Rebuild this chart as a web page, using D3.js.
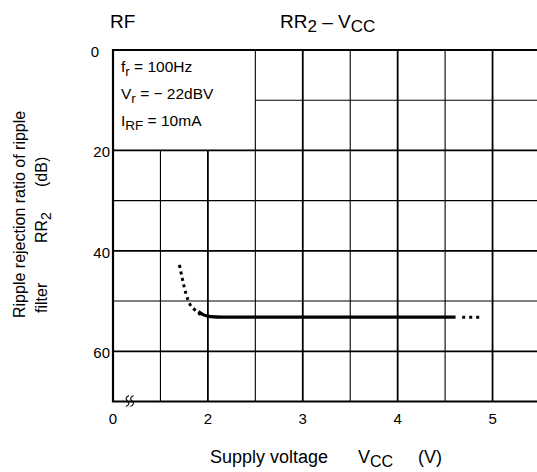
<!DOCTYPE html>
<html>
<head>
<meta charset="utf-8">
<script src="https://cdn.jsdelivr.net/npm/d3@7"></script>
<style>
  body { margin: 0; background: #fff; }
  text { font-family: "Liberation Sans", Arial, sans-serif; fill: #000; }
</style>
</head>
<body>
<svg width="537" height="472"></svg>
<script>
// data
var xTicks = [2, 3, 4, 5];
var yTicks = [0, 20, 40, 60];
var dotLeftV = [1.70, 1.73, 1.77, 1.81, 1.86, 1.91, 1.96];
var dotLeftDb = [42.8, 45.5, 48.6, 50.6, 51.7, 52.5, 52.9];
var solidV = [1.90, 1.96, 2.03, 2.15, 2.5, 3, 4, 4.61];
var solidDb = [52.1, 52.8, 53.1, 53.2, 53.2, 53.2, 53.2, 53.2];
var dotRightV = [4.68, 4.86];
var dotRightDb = [53.2, 53.2];
var conditions = ["f|r| = 100Hz", "V|r| = − 22dBV", "I|RF| = 10mA"];

var svg = d3.select("svg");

var x = d3.scaleLinear().domain([1, 5.5]).range([113, 540]),
    y = d3.scaleLinear().domain([0, 70]).range([50, 401.5]);

function pts(vs, ds) { return vs.map(function(v, i) { return [v, ds[i]]; }); }

var line = d3.line()
    .x(function(d) { return x(d[0]); })
    .y(function(d) { return y(d[1]); })
    .curve(d3.curveMonotoneX);

var grid = svg.append("g");

// vertical grid lines
d3.range(1.5, 5.51, 0.5).forEach(function(v) {
  var major = Math.abs(v - Math.round(v)) < 0.01;
  grid.append("line")
      .attr("x1", x(v)).attr("x2", x(v))
      .attr("y1", v < 2.5 ? y(20) : y(0)).attr("y2", y(70))
      .attr("stroke", "#000")
      .attr("stroke-width", major ? 1.8 : 1.1);
});

// horizontal grid lines
d3.range(10, 61, 10).forEach(function(d) {
  grid.append("line")
      .attr("x1", d < 20 ? x(2.5) : x(1)).attr("x2", 537)
      .attr("y1", y(d)).attr("y2", y(d))
      .attr("stroke", "#000")
      .attr("stroke-width", d % 20 === 0 ? 1.8 : 1.1);
});

// frame: top, left, bottom
grid.append("path")
    .attr("d", "M537," + y(0) + "H" + x(1) + "V" + y(70) + "H537")
    .attr("fill", "none")
    .attr("stroke", "#000")
    .attr("stroke-width", 2.2);

// axis break marks
var bx = 126, by = y(70);
[0, 4.5].forEach(function(o) {
  svg.append("path")
      .attr("d", "M" + (bx + o + 3) + "," + (by - 6) + " q-5,2.5 -1.5,5.5 q3.5,3 -1.5,5.5")
      .attr("fill", "none")
      .attr("stroke", "#000")
      .attr("stroke-width", 1.1);
});

// tick labels
svg.append("g").selectAll("text")
    .data(yTicks).enter().append("text")
    .attr("x", function(d) { return d === 0 ? x(1) - 14 : x(1) - 3; })
    .attr("y", function(d) { return y(d) + 7; })
    .attr("text-anchor", "end")
    .attr("font-size", 15)
    .text(function(d) { return d; });

svg.append("g").selectAll("text")
    .data([0].concat(xTicks)).enter().append("text")
    .attr("x", function(d) { return d === 0 ? x(1) : x(d); })
    .attr("y", y(70) + 22)
    .attr("text-anchor", "middle")
    .attr("font-size", 15)
    .text(function(d) { return d; });

// curve
svg.append("path")
    .attr("d", line(pts(solidV, solidDb)))
    .attr("fill", "none")
    .attr("stroke", "#000")
    .attr("stroke-width", 3.2);

svg.append("path")
    .attr("d", line(pts(dotLeftV, dotLeftDb)))
    .attr("fill", "none")
    .attr("stroke", "#000")
    .attr("stroke-width", 3)
    .attr("stroke-dasharray", "3,3.6");

svg.append("path")
    .attr("d", d3.line().x(function(d) { return x(d[0]); }).y(function(d) { return y(d[1]); })(pts(dotRightV, dotRightDb)))
    .attr("fill", "none")
    .attr("stroke", "#000")
    .attr("stroke-width", 3)
    .attr("stroke-dasharray", "3,4");

// text with subscripts: parts split by "|"
function richText(sel, str, subSize) {
  str.split("|").forEach(function(part, i) {
    if (!part) return;
    sel.append("tspan")
        .attr("baseline-shift", i % 2 ? "-25%" : null)
        .attr("font-size", i % 2 ? subSize : null)
        .text(part);
  });
  return sel;
}

// condition box text
conditions.forEach(function(c, i) {
  richText(svg.append("text")
      .attr("x", 121)
      .attr("y", 72 + i * 27)
      .attr("font-size", 15.5), c, 13.5);
});

// titles
svg.append("text").attr("x", 110).attr("y", 28).attr("font-size", 19).text("RF");
richText(svg.append("text").attr("x", 280).attr("y", 28).attr("font-size", 19), "RR|2| – V|CC|", 17);

// axis titles
svg.append("text").attr("x", 210).attr("y", 463).attr("font-size", 18).text("Supply voltage");
richText(svg.append("text").attr("x", 358).attr("y", 463).attr("font-size", 18), "V|CC|", 16);
svg.append("text").attr("x", 418).attr("y", 463).attr("font-size", 18).text("(V)");

var yl = svg.append("g").attr("transform", "rotate(-90)");
yl.append("text").attr("x", -318).attr("y", 25).attr("font-size", 16)
    .text("Ripple rejection ratio of ripple");
yl.append("text").attr("x", -313).attr("y", 47).attr("font-size", 16).text("filter");
richText(yl.append("text").attr("x", -243).attr("y", 47).attr("font-size", 16), "RR|2|", 14);
yl.append("text").attr("x", -187).attr("y", 47).attr("font-size", 16).text("(dB)");
</script>
</body>
</html>
